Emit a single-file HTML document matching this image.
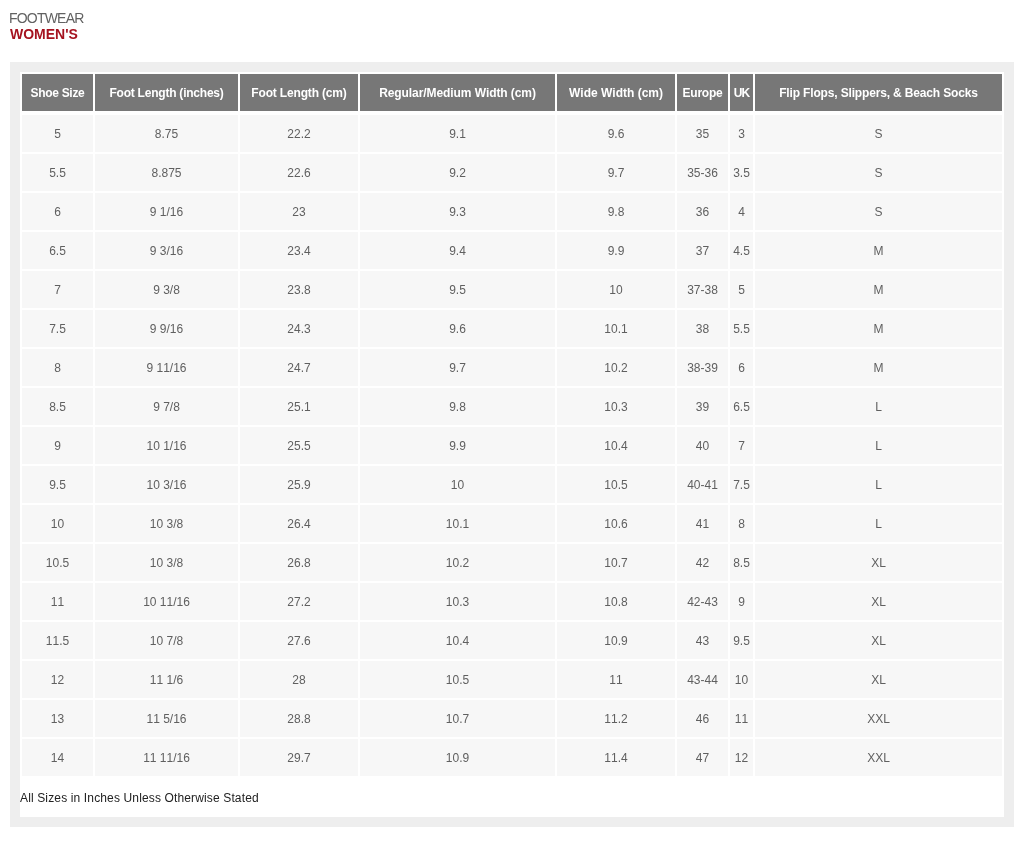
<!DOCTYPE html>
<html><head><meta charset="utf-8"><title>Footwear Women's Size Chart</title>
<style>
html,body{margin:0;padding:0;background:#fff;}
body{-webkit-font-smoothing:antialiased;width:1024px;height:842px;overflow:hidden;position:relative;font-family:"Liberation Sans",sans-serif;}
.t1{will-change:transform;position:absolute;left:9px;top:10px;font-size:14px;line-height:16px;color:#626262;letter-spacing:-0.8px;}
.t2{will-change:transform;position:absolute;left:10px;top:26px;font-size:14px;line-height:16px;color:#a5121f;font-weight:bold;letter-spacing:0;}
.outer{position:absolute;left:10px;top:62px;width:1004px;height:765px;background:#eee;}
.inner{position:absolute;left:10px;top:10px;width:984px;height:745px;background:#fff;}
table{will-change:transform;border-collapse:separate;border-spacing:2px;table-layout:fixed;width:984px;margin:0;}
th,td{font-kerning:none;padding:0;text-align:center;vertical-align:middle;font-size:12px;white-space:nowrap;overflow:visible;}
th{height:37px;background:#777;color:#fff;font-weight:bold;}
td{height:37px;background:#f7f7f7;color:#606060;}
tr.gap td{height:0;background:#fff;line-height:0;font-size:0;}
.note{will-change:transform;position:absolute;left:0;top:719px;font-size:12px;line-height:14px;color:#222;letter-spacing:0.14px;font-kerning:none;}
</style></head><body>
<div class="t1">FOOTWEAR</div>
<div class="t2">WOMEN'S</div>
<div class="outer"><div class="inner">
<table>
<colgroup><col style="width:71px"><col style="width:143px"><col style="width:118px"><col style="width:195px"><col style="width:118px"><col style="width:51px"><col style="width:23px"><col style="width:247px"></colgroup>
<thead><tr><th style="letter-spacing:-0.31px">Shoe Size</th><th style="letter-spacing:-0.225px">Foot Length (inches)</th><th style="letter-spacing:-0.17px">Foot Length (cm)</th><th style="letter-spacing:-0.08px">Regular/Medium Width (cm)</th><th style="letter-spacing:0px">Wide Width (cm)</th><th style="letter-spacing:-0.23px">Europe</th><th style="letter-spacing:-0.8px">UK</th><th style="letter-spacing:-0.155px">Flip Flops, Slippers, &amp; Beach Socks</th></tr></thead>
<tbody>
<tr class="gap"><td colspan="8"></td></tr>
<tr><td>5</td><td>8.75</td><td>22.2</td><td>9.1</td><td>9.6</td><td>35</td><td>3</td><td>S</td></tr>
<tr><td>5.5</td><td>8.875</td><td>22.6</td><td>9.2</td><td>9.7</td><td>35-36</td><td>3.5</td><td>S</td></tr>
<tr><td>6</td><td>9 1/16</td><td>23</td><td>9.3</td><td>9.8</td><td>36</td><td>4</td><td>S</td></tr>
<tr><td>6.5</td><td>9 3/16</td><td>23.4</td><td>9.4</td><td>9.9</td><td>37</td><td>4.5</td><td>M</td></tr>
<tr><td>7</td><td>9 3/8</td><td>23.8</td><td>9.5</td><td>10</td><td>37-38</td><td>5</td><td>M</td></tr>
<tr><td>7.5</td><td>9 9/16</td><td>24.3</td><td>9.6</td><td>10.1</td><td>38</td><td>5.5</td><td>M</td></tr>
<tr><td>8</td><td>9 11/16</td><td>24.7</td><td>9.7</td><td>10.2</td><td>38-39</td><td>6</td><td>M</td></tr>
<tr><td>8.5</td><td>9 7/8</td><td>25.1</td><td>9.8</td><td>10.3</td><td>39</td><td>6.5</td><td>L</td></tr>
<tr><td>9</td><td>10 1/16</td><td>25.5</td><td>9.9</td><td>10.4</td><td>40</td><td>7</td><td>L</td></tr>
<tr><td>9.5</td><td>10 3/16</td><td>25.9</td><td>10</td><td>10.5</td><td>40-41</td><td>7.5</td><td>L</td></tr>
<tr><td>10</td><td>10 3/8</td><td>26.4</td><td>10.1</td><td>10.6</td><td>41</td><td>8</td><td>L</td></tr>
<tr><td>10.5</td><td>10 3/8</td><td>26.8</td><td>10.2</td><td>10.7</td><td>42</td><td>8.5</td><td>XL</td></tr>
<tr><td>11</td><td>10 11/16</td><td>27.2</td><td>10.3</td><td>10.8</td><td>42-43</td><td>9</td><td>XL</td></tr>
<tr><td>11.5</td><td>10 7/8</td><td>27.6</td><td>10.4</td><td>10.9</td><td>43</td><td>9.5</td><td>XL</td></tr>
<tr><td>12</td><td>11 1/6</td><td>28</td><td>10.5</td><td>11</td><td>43-44</td><td>10</td><td>XL</td></tr>
<tr><td>13</td><td>11 5/16</td><td>28.8</td><td>10.7</td><td>11.2</td><td>46</td><td>11</td><td>XXL</td></tr>
<tr><td>14</td><td>11 11/16</td><td>29.7</td><td>10.9</td><td>11.4</td><td>47</td><td>12</td><td>XXL</td></tr>
</tbody></table>
<div class="note">All Sizes in Inches Unless Otherwise Stated</div>
</div></div>
</body></html>
